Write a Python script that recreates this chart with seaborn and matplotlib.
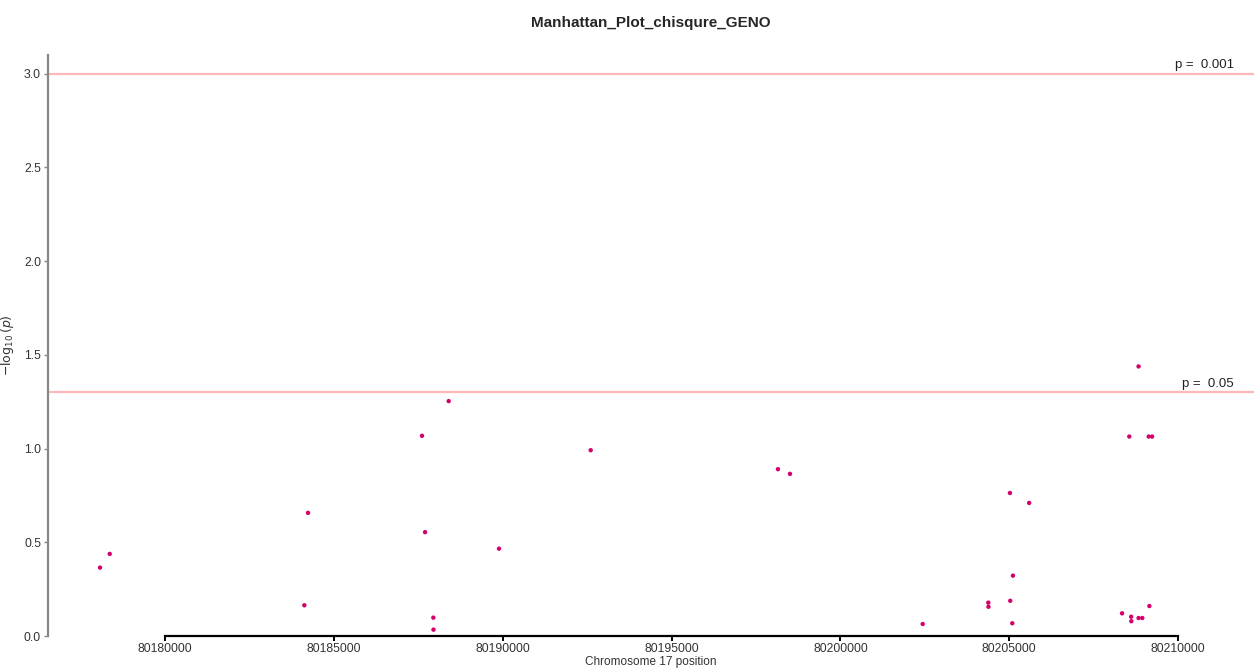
import matplotlib
matplotlib.use('Agg')

import pandas as pd
import numpy as np
import seaborn as sns
import matplotlib.pyplot as plt

# positions on chromosome 17 and -log10(p) values
positions = [80178075, 80178362, 80184125, 80184235, 80187610, 80187700, 80187945, 80187950,
             80188400, 80189890, 80192605, 80198150, 80198507, 80202437, 80204380, 80204385,
             80205030, 80205090, 80205110, 80205020, 80205590, 80208340, 80208610, 80208615,
             80208830, 80208940, 80209150, 80208555, 80209130, 80209230, 80208830]
neglogp = [0.365, 0.438, 0.164, 0.657, 1.068, 0.554, 0.098, 0.034,
           1.253, 0.466, 0.991, 0.890, 0.865, 0.064, 0.178, 0.156,
           0.188, 0.068, 0.322, 0.763, 0.710, 0.121, 0.103, 0.079,
           0.096, 0.096, 0.160, 1.064, 1.064, 1.064, 1.438]

thresholds = [0.001, 0.05]
threshold_labels = ['p =  0.001', 'p =  0.05']
x_ticks = [80180000, 80185000, 80190000, 80195000, 80200000, 80205000, 80210000]
y_ticks = [0.0, 0.5, 1.0, 1.5, 2.0, 2.5, 3.0]

df = pd.DataFrame({'pos': positions, 'logp': neglogp})

sns.set_style('white')
plt.rcParams['font.family'] = ['Liberation Sans', 'DejaVu Sans']

fig = plt.figure(figsize=(12.54, 6.69), dpi=100)
ax = fig.add_axes([0.0383, 0.0493, 0.9617, 0.8687])

for p, lab in zip(thresholds, threshold_labels):
    yv = -np.log10(p)
    ax.axhline(yv, color='#ffb8b8', lw=1.6, zorder=1)
    ax.text(80211650, yv + 0.012, lab, ha='right', va='bottom', fontsize=9.5, color='#222222')

sns.scatterplot(data=df, x='pos', y='logp', color='#d4006c', s=10, edgecolor='none',
                ax=ax, zorder=3, legend=False)

ax.set_xlim(80176535, 80212248)
ax.set_ylim(0, 3.10)
ax.set_xticks(x_ticks)
ax.set_xticklabels([str(t) for t in x_ticks], fontsize=8.8, color='#333333')
ax.set_yticks(y_ticks)
ax.set_yticklabels([f'{t:.1f}' for t in y_ticks], fontsize=8.8, color='#333333')

for s in ['top', 'right']:
    ax.spines[s].set_visible(False)
ax.spines['bottom'].set_bounds(80180000, 80210000)
ax.spines['bottom'].set_color('black')
ax.spines['bottom'].set_linewidth(1.6)
ax.spines['left'].set_color('#888888')
ax.spines['left'].set_linewidth(1.6)
ax.tick_params(axis='x', bottom=True, length=3.5, width=1.4, color='black', pad=1.5)
ax.tick_params(axis='y', left=True, length=3, width=1.0, color='#888888', pad=2)

ax.set_xlabel('Chromosome 17 position', fontsize=8.5, color='#333333', labelpad=1)
ax.set_ylabel(r'$-\log_{10}(p)$', fontsize=9, color='#333333', labelpad=6)
ax.set_title('Manhattan_Plot_chisqure_GENO', fontsize=11, fontweight='bold', pad=20)

fig.savefig('out.png', dpi=100)
